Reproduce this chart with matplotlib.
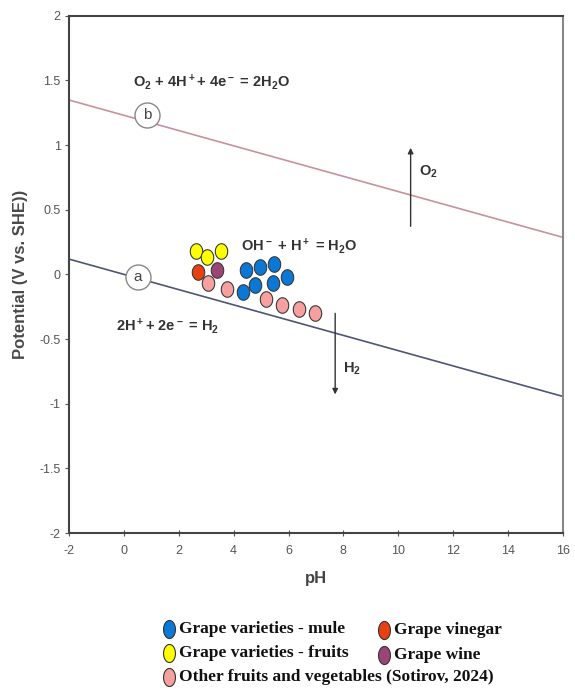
import numpy as np
import matplotlib.pyplot as plt
from matplotlib.lines import Line2D

plt.rcParams['font.family'] = ['Liberation Sans', 'DejaVu Sans']
plt.rcParams['mathtext.fontset'] = 'custom'
plt.rcParams['mathtext.rm'] = 'Liberation Sans:bold'
plt.rcParams['mathtext.default'] = 'rm'

# water stability lines: E = E0 - 0.059 pH
ph_line = [-2, 16]
e0_a = 0.0
e0_b = 1.23
slope = -0.059

# grape varieties - mule (blue)
mule_ph = [4.44, 4.96, 5.47, 5.96, 4.35, 4.78, 5.45]
mule_e = [0.03, 0.06, 0.08, -0.02, -0.14, -0.08, -0.07]

# grape varieties - fruits (yellow)
fruit_ph = [2.62, 3.04, 3.53]
fruit_e = [0.18, 0.135, 0.18]

# grape vinegar (red), grape wine (purple)
vinegar_ph = [2.69]
vinegar_e = [0.02]
wine_ph = [3.40]
wine_e = [0.035]

# other fruits and vegetables (pink)
other_ph = [3.05, 3.75, 5.17, 5.75, 6.39, 6.97]
other_e = [-0.065, -0.11, -0.19, -0.235, -0.265, -0.30]

xticks = np.arange(-2, 17, 2)
yticks = np.arange(-2, 2.01, 0.5)

# ellipse markers (taller than wide)
t = np.linspace(0, 2 * np.pi, 60)
ell = np.column_stack([0.40 * np.cos(t), 0.5 * np.sin(t)])
ell_leg = np.column_stack([0.33 * np.cos(t), 0.5 * np.sin(t)])

fig = plt.figure(figsize=(5.75, 6.89), dpi=100)
ax = fig.add_axes([0.12, 0.2264, 0.859, 0.7508])

ph = np.array(ph_line)
ax.plot(ph, e0_b + slope * ph, color='#c7929c', lw=1.2, zorder=2)
ax.plot(ph, e0_a + slope * ph, color='#4f5673', lw=1.2, zorder=2)

groups = [
    (mule_ph, mule_e, '#0a78d4'),
    (fruit_ph, fruit_e, '#ffff00'),
    (vinegar_ph, vinegar_e, '#e84010'),
    (wine_ph, wine_e, '#9a4576'),
    (other_ph, other_e, '#f6a0a0'),
]
for xs, ys, c in groups:
    ax.scatter(xs, ys, marker=ell, s=125, facecolor=c, edgecolor='#3a3a3a',
               linewidths=0.8, zorder=4)

# circled labels
for lbl, x, y in [('a', 0.5, -0.02), ('b', 0.85, 1.23)]:
    ax.plot(x, y, 'o', ms=18, mfc='white', mec='#888888', mew=1.0, zorder=3)
    ax.text(x, y, lbl, ha='center', va='center', fontsize=11, color='#444444',
            zorder=5)

txt = dict(fontsize=10.5, fontweight='bold', color='#333333')
ax.text(0.35, 1.49, r'O$_2$ + 4H$^+$+ 4e$^-$ = 2H$_2$O', va='center', **txt)
ax.text(4.25, 0.22, r'OH$^-$ + H$^+$ = H$_2$O', va='center', **txt)
ax.text(-0.3, -0.40, r'2H$^+$+ 2e$^-$ = H$_2$', va='center', **txt)
ax.text(10.75, 0.79, r'O$_2$', va='center', **txt)
ax.text(8.0, -0.73, r'H$_2$', va='center', **txt)

ax.annotate('', xy=(10.45, 1.0), xytext=(10.45, 0.35),
            arrowprops=dict(arrowstyle='-|>', color='#333333', lw=1.0,
                            mutation_scale=8))
ax.annotate('', xy=(7.7, -0.95), xytext=(7.7, -0.28),
            arrowprops=dict(arrowstyle='-|>', color='#333333', lw=1.0,
                            mutation_scale=8))

ax.set_xlim(-2, 16)
ax.set_ylim(-2, 2)
ax.set_xticks(xticks)
ax.set_yticks(yticks)
ax.set_xticklabels([f'{v:g}' for v in xticks])
ax.set_yticklabels([f'{v:g}' for v in yticks])
ax.tick_params(axis='x', direction='inout', length=5, labelsize=9,
               colors='#555555', pad=6)
ax.tick_params(axis='y', direction='out', length=3, labelsize=9,
               colors='#555555', pad=3)
for s in ax.spines.values():
    s.set_color('#444444')
    s.set_linewidth(1.5)
ax.spines['right'].set_color('#888888')

ax.set_xlabel('pH', fontsize=12, fontweight='bold', color='#444444', labelpad=10)
ax.set_ylabel('Potential (V vs. SHE))', fontsize=12, fontweight='bold',
              color='#4a4a4a', labelpad=8)

# legend below the plot
leg_items = [
    ('Grape varieties - mule', '#0a78d4'),
    ('Grape varieties - fruits', '#ffff00'),
    ('Other fruits and vegetables (Sotirov, 2024)', '#f6a0a0'),
    ('Grape vinegar', '#e84010'),
    ('Grape wine', '#9a4576'),
]
leg_pos = [(0.29, 0.087), (0.29, 0.052), (0.29, 0.018),
           (0.664, 0.085), (0.664, 0.049)]
for (name, c), (lx, ly) in zip(leg_items, leg_pos):
    fig.text(lx + 0.022, ly, name, family='Liberation Serif', fontweight='bold',
             fontsize=12.5, va='center', color='#111111')
    fig.add_artist(Line2D([lx + 0.004], [ly], marker=ell_leg, ms=13, mfc=c,
                          mec='#333333', mew=0.8, transform=fig.transFigure))

fig.savefig('out.png', dpi=100)
